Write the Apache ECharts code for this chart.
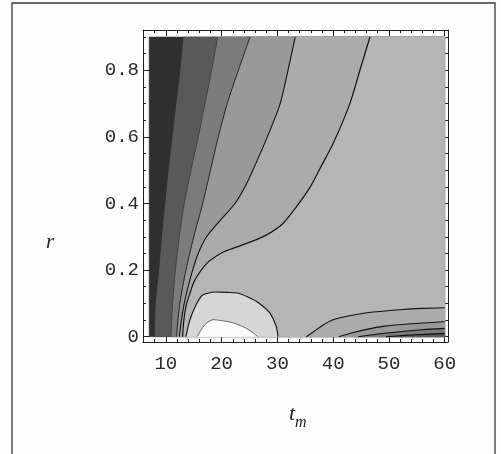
<!DOCTYPE html>
<html><head><meta charset="utf-8">
<script src="https://cdn.jsdelivr.net/npm/echarts@6/dist/echarts.min.js"></script>
<style>html,body{margin:0;padding:0;background:#fdfdfd}#c{width:501px;height:454px}</style>
</head><body><div id="c"></div>
<script>
// ---- data (x = t_m, y = r) ----
const xExtent = [7, 60];
const rExtent = [0, 0.9];
const xTicks = [10, 20, 30, 40, 50, 60];
const xMinorTicks = [8, 12, 14, 16, 18, 22, 24, 26, 28, 32, 34, 36, 38, 42, 44, 46, 48, 52, 54, 56, 58];
const rTicks = [0, 0.2, 0.4, 0.6, 0.8];
const rMinorTicks = [0.05, 0.1, 0.15, 0.25, 0.3, 0.35, 0.45, 0.5, 0.55, 0.65, 0.7, 0.75, 0.85, 0.9];

// contour boundaries, [t_m, r]
const contourE1 = [[13.1,0.9],[12.5,0.8],[11.8,0.7],[11.1,0.6],[10.4,0.5],[9.8,0.4],[9.2,0.3],[8.7,0.2],[8.1,0.1],[7.9,0]];
const contourE2 = [[19.3,0.9],[18.2,0.8],[17.0,0.7],[15.8,0.6],[14.5,0.5],[13.3,0.4],[12.4,0.3],[11.7,0.2],[11.2,0.1],[10.9,0]];
const contourE3 = [[25.1,0.9],[23.0,0.8],[21.0,0.7],[19.4,0.6],[18.0,0.5],[16.6,0.4],[15.0,0.3],[13.6,0.2],[12.5,0.1],[11.9,0]];
const contourL2 = [[33.2,0.9],[31.9,0.8],[30.5,0.7],[28.2,0.6],[25.6,0.5],[24.2,0.45],[22.4,0.4],[19.8,0.35],[17.3,0.3],[15.8,0.25],[14.8,0.2],[14.0,0.15],[13.3,0.1],[12.8,0.05],[12.4,0]];
const contourL1 = [[46.6,0.9],[44.8,0.8],[43.0,0.7],[40.0,0.58],[37.8,0.51],[35.9,0.45],[33.4,0.39],[31.0,0.34],[28.0,0.305],[25.1,0.284],[22.5,0.268],[20.3,0.254],[17.4,0.221],[15.2,0.17],[14.3,0.13],[13.6,0.09],[13.2,0.045],[13.0,0]];
const contourDome = [[13.6,0],[14.3,0.05],[15.4,0.095],[16.6,0.125],[18.8,0.134],[21.0,0.133],[22.8,0.131],[24.6,0.12],[26.4,0.104],[28.6,0.072],[29.8,0.03],[30.1,0]];
const contourBlob = [[15.6,0],[17.0,0.036],[18.45,0.051],[20.1,0.048],[22.0,0.042],[24.2,0.027],[25.6,0.012],[26.5,0]];
const contourR1 = [[35.2,0],[36.5,0.015],[38.2,0.035],[40.0,0.051],[43.0,0.063],[46.1,0.072],[52.0,0.081],[56.0,0.085],[60,0.087]];
const contourR2 = [[41.0,0],[43.5,0.012],[46.0,0.022],[48.9,0.031],[54.0,0.039],[60,0.045]];
const contourR3 = [[44.5,0],[48.0,0.008],[52.0,0.015],[56.0,0.021],[60,0.025]];
const contourR4 = [[49.5,0],[53.0,0.004],[56.5,0.007],[60,0.01]];

const shades = ['#2f2f2f','#595959','#7b7b7b','#999999','#ababab','#b5b5b5','#d6d6d6','#fbfbfb'];

// ---- build fill polygons ----
const X1 = xExtent[1], R0 = rExtent[0], R1v = rExtent[1];
function rightOf(b){ return b.concat([[X1,R0],[X1,R1v]]); }
const polys = [
  {pts:[[xExtent[0],R0],[xExtent[0],R1v],[X1,R1v],[X1,R0]], c:shades[0]},
  {pts:rightOf(contourE1), c:shades[1]},
  {pts:rightOf(contourE2), c:shades[2]},
  {pts:rightOf(contourE3), c:shades[3]},
  {pts:rightOf(contourL2), c:shades[4]},
  {pts:rightOf(contourL1), c:shades[5]},
  {pts:contourDome, c:shades[6]},
  {pts:contourBlob, c:shades[7]},
  {pts:contourR1.concat([[X1,R0]]), c:shades[4]},
  {pts:contourR2.concat([[X1,R0]]), c:shades[3]},
  {pts:contourR3.concat([[X1,R0]]), c:shades[2]},
  {pts:contourR4.concat([[X1,R0]]), c:shades[1]}
];

const lineSets = [
  {d:contourE1, c:'#262626', w:0.8},
  {d:contourE2, c:'#333', w:0.8},
  {d:contourE3, c:'#222', w:1},
  {d:contourL2, c:'#111', w:1.1},
  {d:contourL1, c:'#111', w:1.2},
  {d:contourDome, c:'#111', w:1.1},
  {d:contourBlob, c:'#444', w:0.8},
  {d:contourR1, c:'#111', w:1.1},
  {d:contourR2, c:'#111', w:1.1},
  {d:contourR3, c:'#111', w:1.1},
  {d:contourR4, c:'#111', w:1.1}
];

const monoFont = '"Liberation Mono", "DejaVu Sans Mono", monospace';
const frameColor = '#1e1e1e';
function xAxisDef(pos, vals, len, major){
  return {type:'value', min:5.9, max:60.6, position:pos,
    axisLine:{show:major, onZero:false, lineStyle:{color:frameColor, width:1}},
    axisTick:{show:true, inside:true, length:len, customValues:vals, lineStyle:{color:frameColor, width:1}},
    axisLabel:{show: major && pos==='bottom', customValues:vals, fontFamily:monoFont, fontSize:19, color:'#2a2a2a', margin:12},
    splitLine:{show:false}};
}
function yAxisDef(pos, vals, len, major){
  return {type:'value', min:-0.016, max:0.921, position:pos,
    axisLine:{show:major, onZero:false, lineStyle:{color:frameColor, width:1}},
    axisTick:{show:true, inside:true, length:len, customValues:vals, lineStyle:{color:frameColor, width:1}},
    axisLabel:{show: major && pos==='left', customValues:vals, fontFamily:monoFont, fontSize:19, color:'#2a2a2a', margin:4,
      formatter: v => (v===0 ? '0' : String(Math.round(v*10)/10))},
    splitLine:{show:false}};
}

const series = [{
  type:'custom', coordinateSystem:'cartesian2d', xAxisIndex:0, yAxisIndex:0, clip:true, silent:true,
  encode:{x:0, y:1},
  data: polys.map((p,i)=>[p.pts[0][0], p.pts[0][1], i]),
  renderItem:(params, api)=>{
    const p = polys[params.dataIndex];
    return {type:'polygon', z2:params.dataIndex,
      shape:{points:p.pts.map(q=>api.coord(q))},
      style:{fill:p.c, stroke:p.c, lineWidth:0.5}};
  },
  z:1
}];
lineSets.forEach(l=>{
  series.push({type:'line', xAxisIndex:0, yAxisIndex:0, data:l.d, showSymbol:false, symbol:'none', smooth:0.25,
    lineStyle:{color:l.c, width:l.w}, z:3, silent:true, clip:true});
});

const chart = echarts.init(document.getElementById('c'), null, {renderer:'canvas'});
chart.setOption({
  animation:false,
  backgroundColor:'#fdfdfd',
  grid:{left:143, top:30, width:305, height:312, containLabel:false},
  xAxis:[xAxisDef('bottom', xTicks, 6, true), xAxisDef('bottom', xMinorTicks, 3, false),
         xAxisDef('top', xTicks, 6, true), xAxisDef('top', xMinorTicks, 3, false)],
  yAxis:[yAxisDef('left', rTicks, 6, true), yAxisDef('left', rMinorTicks, 3, false),
         yAxisDef('right', rTicks, 6, true), yAxisDef('right', rMinorTicks, 3, false)],
  series: series,
  graphic:[
    {type:'rect', shape:{x:12, y:3, width:483, height:480}, style:{fill:'none', stroke:'#3a3a3a', lineWidth:1.3}, silent:true},
    {type:'text', left:46, top:232, style:{text:'r', font:'italic 21px "Liberation Serif", "DejaVu Serif", serif', fill:'#222'}},
    {type:'text', left:289, top:403, style:{text:'{t|t}{m|m}', rich:{
      t:{font:'italic 22px "Liberation Serif", "DejaVu Serif", serif', fill:'#222', verticalAlign:'bottom'},
      m:{font:'italic 16px "Liberation Serif", "DejaVu Serif", serif', fill:'#222', verticalAlign:'bottom', padding:[0,0,-6,0]}}}}
  ]
});
</script></body></html>
